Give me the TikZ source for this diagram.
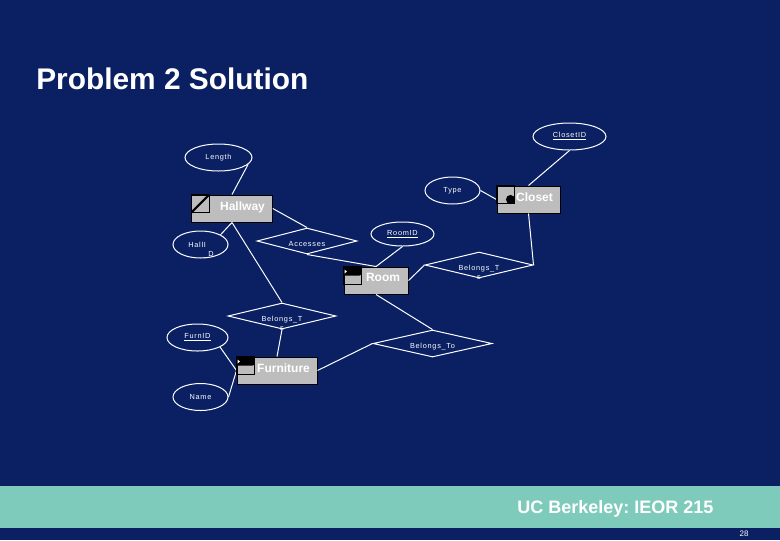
\documentclass[tikz,border=0pt]{standalone}
\usepackage{fontspec}
\setmainfont{Liberation Sans}
\newfontfamily\lblfont[LetterSpace=10]{Liberation Sans}
\usetikzlibrary{shapes.geometric}
\definecolor{slidebg}{HTML}{0A2063}
\definecolor{bandcol}{HTML}{7FCBBB}
\definecolor{boxgrey}{HTML}{BDBDBD}
\newcommand{\entlbl}[2]{\hspace*{#1}\raisebox{4pt}{#2}}
\newcommand{\lowlbl}[1]{\smash{\raisebox{-4pt}{#1}}}
\tikzset{
  x=0.75pt, y=-0.75pt,
  sz/.style 2 args={minimum width=#1*0.75pt, minimum height=#2*0.75pt},
  small/.style={text=white, font=\fontsize{5.5pt}{6.5pt}\lblfont, inner sep=0pt},
  attr/.style={ellipse, draw=white, line width=0.75pt, small},
  rel/.style={diamond, draw=white, line width=0.75pt, small},
  entity/.style={rectangle, draw=black, line width=0.75pt, fill=boxgrey, text=white,
    font=\fontsize{9pt}{10pt}\bfseries, inner sep=0pt},
  conn/.style={draw=white, line width=0.75pt},
  inner square/.style={draw=black, line width=0.75pt},
  slabel/.style={small, anchor=center}
}
\begin{document}
\begin{tikzpicture}
\frenchspacing
\useasboundingbox (0,0) rectangle (780,540);
\fill[slidebg] (0,0) rectangle (780,540);
\fill[bandcol] (0,486) rectangle (780,528);

\node[anchor=base west, text=white, inner sep=0pt, font=\fontsize{22.4pt}{26pt}\bfseries] (title) at (36,89) {Problem 2 Solution};
\node[anchor=base west, text=white, inner sep=0pt, font=\fontsize{13.5pt}{16pt}\bfseries] (footer) at (517,513) {UC Berkeley: IEOR 215};
\node[text=white, inner sep=0pt, font=\fontsize{6pt}{7pt}\selectfont] (pageno) at (744,534) {28};

% entities
\node[entity, sz={80.5}{27}] (hall) at (232,208.5) {\entlbl{15.75pt}{Hallway}};
\node[entity, sz={63}{27}] (closet) at (528.5,199.5) {\entlbl{9pt}{Closet}};
\node[entity, sz={64}{27}] (room) at (376,280.5) {\entlbl{10.5pt}{Room}};
\node[entity, sz={80}{27}] (furn) at (277,370.5) {\entlbl{9.75pt}{Furniture}};

% attributes
\node[attr, sz={67}{27}] (length) at (218.5,157.5) {Length};
\node[attr, sz={55}{27}, label={[slabel, xshift=6pt, yshift=3pt]-90:\_D}] (hallid) at (200.5,244.5) {\hspace*{-5pt}HallI};
\node[attr, sz={73}{27}] (closetid) at (569.5,136.5) {\underline{ClosetID}};
\node[attr, sz={55}{27}] (type) at (452.5,190.5) {Type};
\node[attr, sz={63}{24}] (roomid) at (402.5,234) {\underline{RoomID}};
\node[attr, sz={61}{27}] (furnid) at (197.5,337.5) {\underline{FurnID}};
\node[attr, sz={55}{27}] (name) at (200.5,397) {Name};

% relationships
\node[rel, sz={100}{26}, aspect=3.85] (acc) at (307,241) {\lowlbl{Accesses}};
\node[rel, sz={108}{26}, aspect=4.15, label={[slabel, yshift=0.8pt]-90:s}] (belr) at (479,265) {\lowlbl{Belongs\_T}};
\node[rel, sz={108}{26}, aspect=4.15, label={[slabel, yshift=0.8pt]-90:s}] (bell) at (282,316) {\lowlbl{Belongs\_T}};
\node[rel, sz={119}{27}, aspect=4.4] (belto) at (432.5,343.5) {\lowlbl{Belongs\_To}};

% connectors
\draw[conn] (length.-13) -- (hall.north);
\draw[conn] (hallid.26) -- (hall.south);
\draw[conn] (hall.south) -- (bell.north);
\draw[conn] (hall.east) -- (acc.north);
\draw[conn] (acc.south) -- (room.north);
\draw[conn] (roomid.south) -- (room.north);
\draw[conn] (type.east) -- (closet.west);
\draw[conn] (closetid.south) -- (closet.north);
\draw[conn] (closet.south) -- (belr.east);
\draw[conn] (room.east) -- (belr.west);
\draw[conn] (room.south) -- (belto.north);
\draw[conn] (belto.west) -- (furn.east);
\draw[conn] (bell.south) -- (furn.north);
\draw[conn] (furnid.-23) -- (furn.west);
\draw[conn] (name.east) -- (furn.west);

% entity corner marks
\begin{scope}[shift={(hall.north west)}]
  \draw[inner square] (0,0) rectangle (18,18);
  \draw[black, line width=1.6pt] (0,18) -- (18,0);
\end{scope}
\begin{scope}[shift={(closet.north west)}]
  \draw[inner square] (0,0) rectangle (18,18);
  \fill[black] (14,14) circle[radius=3.4pt];
\end{scope}
\begin{scope}[shift={(room.north west)}]
  \fill[black] (0,0) -- (18,0) -- (18,8) -- (16,9) -- (0,9) -- cycle;
  \draw[inner square] (0,0) rectangle (18,18);
  \fill[white] (1,3) -- (3.5,5) -- (1,7) -- cycle;
\end{scope}
\begin{scope}[shift={(furn.north west)}]
  \fill[black] (0,0) -- (18,0) -- (18,8) -- (16,9) -- (0,9) -- cycle;
  \draw[inner square] (0,0) rectangle (18,18);
  \fill[white] (1,3) -- (3.5,5) -- (1,7) -- cycle;
\end{scope}
\end{tikzpicture}
\end{document}
